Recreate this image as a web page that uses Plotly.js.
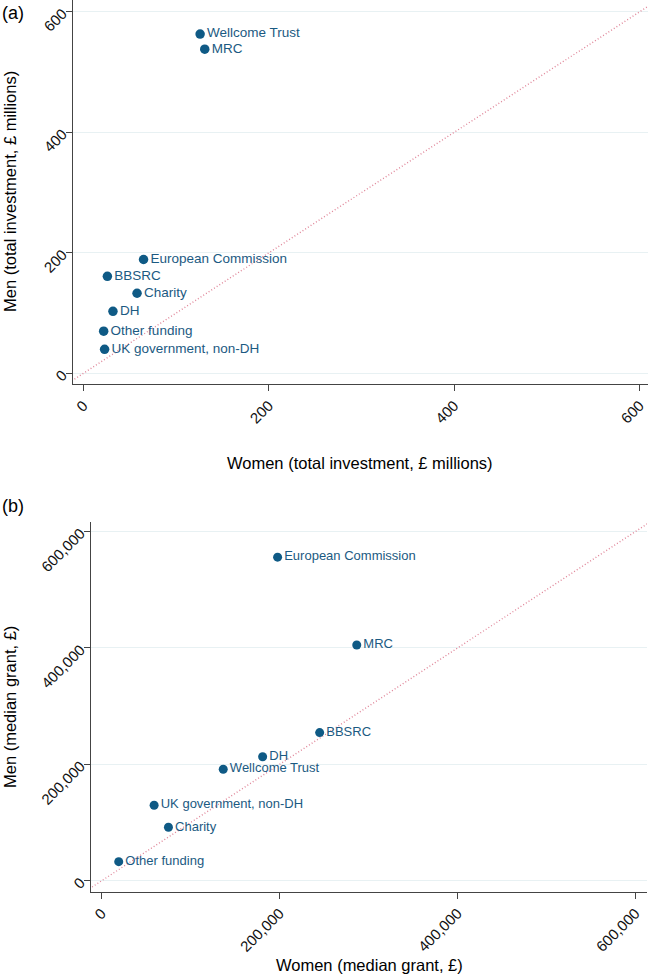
<!DOCTYPE html>
<html>
<head>
<meta charset="utf-8">
<script src="https://cdn.plot.ly/plotly-3.0.1.min.js"></script>
<style>html,body{margin:0;padding:0;background:#fff;}#chart{width:650px;height:977px;}</style>
</head>
<body>
<div id="chart"></div>
<script>
// Panel (a): total investment, £ millions
const fundersA = ["Wellcome Trust", "MRC", "European Commission", "BBSRC", "Charity", "DH", "Other funding", "UK government, non-DH"];
const womenTotalA = [126, 131, 65, 26, 58, 32, 22, 23];
const menTotalA = [563, 538, 189, 161, 133, 103, 70, 40];
const ticksA = [0, 200, 400, 600];
const tickTextA = ["0", "200", "400", "600"];
const equalityA = [-50, 700];

// Panel (b): median grant, £
const fundersB = ["European Commission", "MRC", "BBSRC", "DH", "Wellcome Trust", "UK government, non-DH", "Charity", "Other funding"];
const womenMedianB = [197700, 286700, 245000, 180900, 136600, 58900, 75000, 19100];
const menMedianB = [556000, 405000, 254500, 213000, 191600, 129700, 91800, 32700];
const ticksB = [0, 200000, 400000, 600000];
const tickTextB = ["0", "200,000", "400,000", "600,000"];
const equalityB = [-50000, 700000];

const W = 650, H = 977;
const px = v => v / W;
const py = v => 1 - v / H;

const FONT = "Liberation Sans, Arial, Helvetica, sans-serif";
const dotColor = "#0f5a85";
const lineColor = "#e0879a";

const traces = [
  {x: equalityA, y: equalityA, xaxis: "x", yaxis: "y", mode: "lines",
   line: {color: lineColor, width: 1.4, dash: "1px,2.2px"}, hoverinfo: "skip", showlegend: false},
  {x: womenTotalA, y: menTotalA, text: fundersA, xaxis: "x", yaxis: "y", mode: "markers+text",
   textposition: "middle right", marker: {color: dotColor, size: 9.5},
   textfont: {family: FONT, size: 13.5, color: "#1b5a82"}, showlegend: false, cliponaxis: false},
  {x: equalityB, y: equalityB, xaxis: "x2", yaxis: "y2", mode: "lines",
   line: {color: lineColor, width: 1.4, dash: "1px,2.2px"}, hoverinfo: "skip", showlegend: false},
  {x: womenMedianB, y: menMedianB, text: fundersB, xaxis: "x2", yaxis: "y2", mode: "markers+text",
   textposition: "middle right", marker: {color: dotColor, size: 9},
   textfont: {family: FONT, size: 13, color: "#1b5a82"}, showlegend: false, cliponaxis: false}
];

const axisCommon = {
  showline: true, linecolor: "#444", linewidth: 1,
  ticks: "outside", ticklen: 6, tickcolor: "#444", tickwidth: 1,
  tickangle: -45, tickfont: {family: FONT, size: 15, color: "#111"},
  zeroline: false, tickmode: "array", automargin: false
};

const layout = {
  width: W, height: H,
  margin: {l: 0, r: 0, t: 0, b: 0},
  paper_bgcolor: "#fff", plot_bgcolor: "#fff",
  font: {family: FONT},
  showlegend: false,
  xaxis: Object.assign({}, axisCommon, {
    domain: [px(72.7), px(648)], range: [-11.4, 609], anchor: "y",
    tickvals: ticksA, ticktext: tickTextA, showgrid: false
  }),
  yaxis: Object.assign({}, axisCommon, {
    domain: [py(384), py(0)], range: [-17.6, 619.6], anchor: "x",
    tickvals: ticksA, ticktext: tickTextA, showgrid: true, gridcolor: "#e8f1f3", gridwidth: 1
  }),
  xaxis2: Object.assign({}, axisCommon, {
    domain: [px(90.7), px(647)], range: [-12400, 613000], anchor: "y2",
    tickvals: ticksB, ticktext: tickTextB, showgrid: false
  }),
  yaxis2: Object.assign({}, axisCommon, {
    domain: [py(891.7), py(521.7)], range: [-18900, 617000], anchor: "x2",
    tickvals: ticksB, ticktext: tickTextB, showgrid: true, gridcolor: "#e8f1f3", gridwidth: 1
  }),
  annotations: [
    {text: "(a)", xref: "paper", yref: "paper", x: 0, y: py(13), xanchor: "left", yanchor: "middle",
     showarrow: false, font: {family: FONT, size: 18, color: "#000"}},
    {text: "(b)", xref: "paper", yref: "paper", x: 0, y: py(506), xanchor: "left", yanchor: "middle",
     showarrow: false, font: {family: FONT, size: 18, color: "#000"}},
    {text: "Women (total investment, £ millions)", xref: "paper", yref: "paper", x: px(360), y: py(463),
     xanchor: "center", yanchor: "middle", showarrow: false, font: {family: FONT, size: 16.5, color: "#000"}},
    {text: "Men (total investment, £ millions)", xref: "paper", yref: "paper", x: px(10), y: py(192),
     xanchor: "center", yanchor: "middle", textangle: -90, showarrow: false, font: {family: FONT, size: 16.5, color: "#000"}},
    {text: "Women (median grant, £)", xref: "paper", yref: "paper", x: px(369), y: py(965),
     xanchor: "center", yanchor: "middle", showarrow: false, font: {family: FONT, size: 16.5, color: "#000"}},
    {text: "Men (median grant, £)", xref: "paper", yref: "paper", x: px(10), y: py(707),
     xanchor: "center", yanchor: "middle", textangle: -90, showarrow: false, font: {family: FONT, size: 16.5, color: "#000"}}
  ]
};

Plotly.newPlot("chart", traces, layout, {displayModeBar: false, staticPlot: true});
</script>
</body>
</html>
